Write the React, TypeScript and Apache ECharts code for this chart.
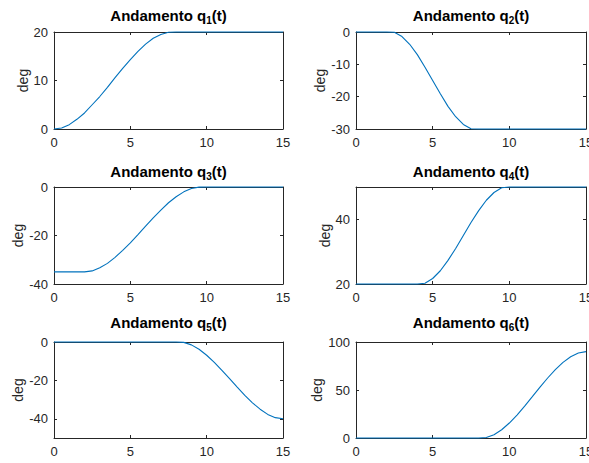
import React, { useEffect, useRef } from 'react';
import * as echarts from 'echarts';

const t = [0, 0.5, 1, 1.5, 2, 2.5, 3, 3.5, 4, 4.5, 5, 5.5, 6, 6.5, 7, 7.5, 8, 8.5, 9, 9.5, 10, 10.5, 11, 11.5, 12, 12.5, 13, 13.5, 14, 14.5, 15];

const q1 = [0, 0.2, 0.9, 2, 3.3, 5, 6.7, 8.6, 10.6, 12.5, 14.3, 16, 17.5, 18.7, 19.5, 19.95, 20, 20, 20, 20, 20, 20, 20, 20, 20, 20, 20, 20, 20, 20, 20];
const q2 = [0, 0, 0, 0, 0, -0.1, -1.4, -3.8, -7, -10.9, -15, -19.1, -23, -26.2, -28.6, -29.9, -30, -30, -30, -30, -30, -30, -30, -30, -30, -30, -30, -30, -30, -30, -30];
const q3 = [-35, -35, -35, -35, -35, -34.6, -33.3, -31.5, -29, -26.1, -23, -19.6, -16.1, -12.7, -9.5, -6.5, -4, -2, -0.6, -0.05, 0, 0, 0, 0, 0, 0, 0, 0, 0, 0, 0];
const q4 = [20, 20, 20, 20, 20, 20, 20, 20, 20, 20.25, 21.7, 24.1, 27.3, 31, 35, 39, 42.7, 45.9, 48.3, 49.75, 50, 50, 50, 50, 50, 50, 50, 50, 50, 50, 50];
const q5 = [0, 0, 0, 0, 0, 0, 0, 0, 0, 0, 0, 0, 0, 0, 0, 0, 0, -0.2, -1.5, -3.8, -6.9, -10.6, -14.8, -19.1, -23.5, -27.8, -31.7, -35, -37.7, -39.4, -40];
const q6 = [0, 0, 0, 0, 0, 0, 0, 0, 0, 0, 0, 0, 0, 0, 0, 0, 0, 0.5, 3.4, 8.6, 15.6, 23.9, 33.2, 43, 52.9, 62.5, 71.2, 78.8, 84.7, 88.6, 90];

const seriesData = [q1, q2, q3, q4, q5, q6];
const subscripts = ['1', '2', '3', '4', '5', '6'];
const yMin = [0, -30, -40, 20, -50, 0];
const yMax = [20, 0, 0, 50, 0, 100];
const yTicks = [[0, 10, 20], [-30, -20, -10, 0], [-40, -20, 0], [20, 40], [-40, -20, 0], [0, 50, 100]];
const xTicks = [0, 5, 10, 15];
const yLabel = 'deg';

const FONT = 'Liberation Sans, Arial, Helvetica, sans-serif';
const AX = '#262626';

const colLeft = [54, 356];
const colWidth = [229, 230];
const rowTop = [32, 187, 342];
const rowHeight = [97, 97, 96];
const titleY = [15.5, 171, 322];
const nameGaps = [23.5, 26, 27, 23, 29, 31];

export default function App() {
  const ref = useRef<HTMLDivElement>(null);
  useEffect(() => {
    if (!ref.current) return;
    const chart = echarts.init(ref.current, null, { renderer: 'svg' });
    const grids: any[] = [];
    const xAxes: any[] = [];
    const yAxes: any[] = [];
    const series: any[] = [];
    const graphics: any[] = [];
    seriesData.forEach((q, i) => {
      const col = i % 2;
      const row = Math.floor(i / 2);
      grids.push({
        left: colLeft[col], top: rowTop[row], width: colWidth[col], height: rowHeight[row],
        containLabel: false, outerBoundsMode: 'none',
      });
      const lineStyle = { color: AX, width: 1 };
      const baseX = {
        gridIndex: i, type: 'value', min: 0, max: 15, interval: 5,
        axisLine: { show: true, onZero: false, lineStyle },
        axisTick: { show: true, inside: true, length: 3, lineStyle, customValues: xTicks },
        splitLine: { show: false },
      };
      xAxes.push({ ...baseX, position: 'bottom', axisLabel: { show: true, color: AX, fontSize: 13, fontFamily: FONT, margin: 7, customValues: xTicks } });
      xAxes.push({ ...baseX, position: 'top', axisLabel: { show: false } });
      const baseY = {
        gridIndex: i, type: 'value', min: yMin[i], max: yMax[i], interval: 10,
        axisLine: { show: true, onZero: false, lineStyle },
        axisTick: { show: true, inside: true, length: 3, lineStyle, customValues: yTicks[i] },
        splitLine: { show: false },
      };
      yAxes.push({
        ...baseY, position: 'left',
        axisLabel: { show: true, color: AX, fontSize: 13, fontFamily: FONT, margin: 6, customValues: yTicks[i] },
        name: yLabel, nameLocation: 'middle', nameGap: nameGaps[i],
        nameTextStyle: { color: AX, fontSize: 14, fontFamily: FONT },
      });
      yAxes.push({ ...baseY, position: 'right', axisLabel: { show: false } });
      series.push({
        type: 'line', xAxisIndex: 2 * i, yAxisIndex: 2 * i,
        data: t.map((x, j) => [x, q[j]]),
        showSymbol: false, symbol: 'none', clip: false,
        lineStyle: { color: '#0072BD', width: 1.1 },
        z: 5,
      });
      graphics.push({
        type: 'text',
        x: colLeft[col] + colWidth[col] / 2,
        y: titleY[row],
        style: {
          text: '{a|Andamento q}{s|' + subscripts[i] + '}{a|(t)}',
          align: 'center',
          verticalAlign: 'middle',
          rich: {
            a: { fontSize: 15, fontWeight: 'bold', fontFamily: FONT, fill: '#000', lineHeight: 20 },
            s: { fontSize: 10, fontWeight: 'bold', fontFamily: FONT, fill: '#000', lineHeight: 6, verticalAlign: 'bottom' },
          },
        },
      });
    });
    chart.setOption({
      animation: false,
      backgroundColor: '#fff',
      grid: grids,
      xAxis: xAxes,
      yAxis: yAxes,
      series,
      graphic: graphics,
    });
    return () => chart.dispose();
  }, []);
  return <div ref={ref} style={{ position: 'absolute', left: 0, top: 0, width: 589, height: 463 }} />;
}
